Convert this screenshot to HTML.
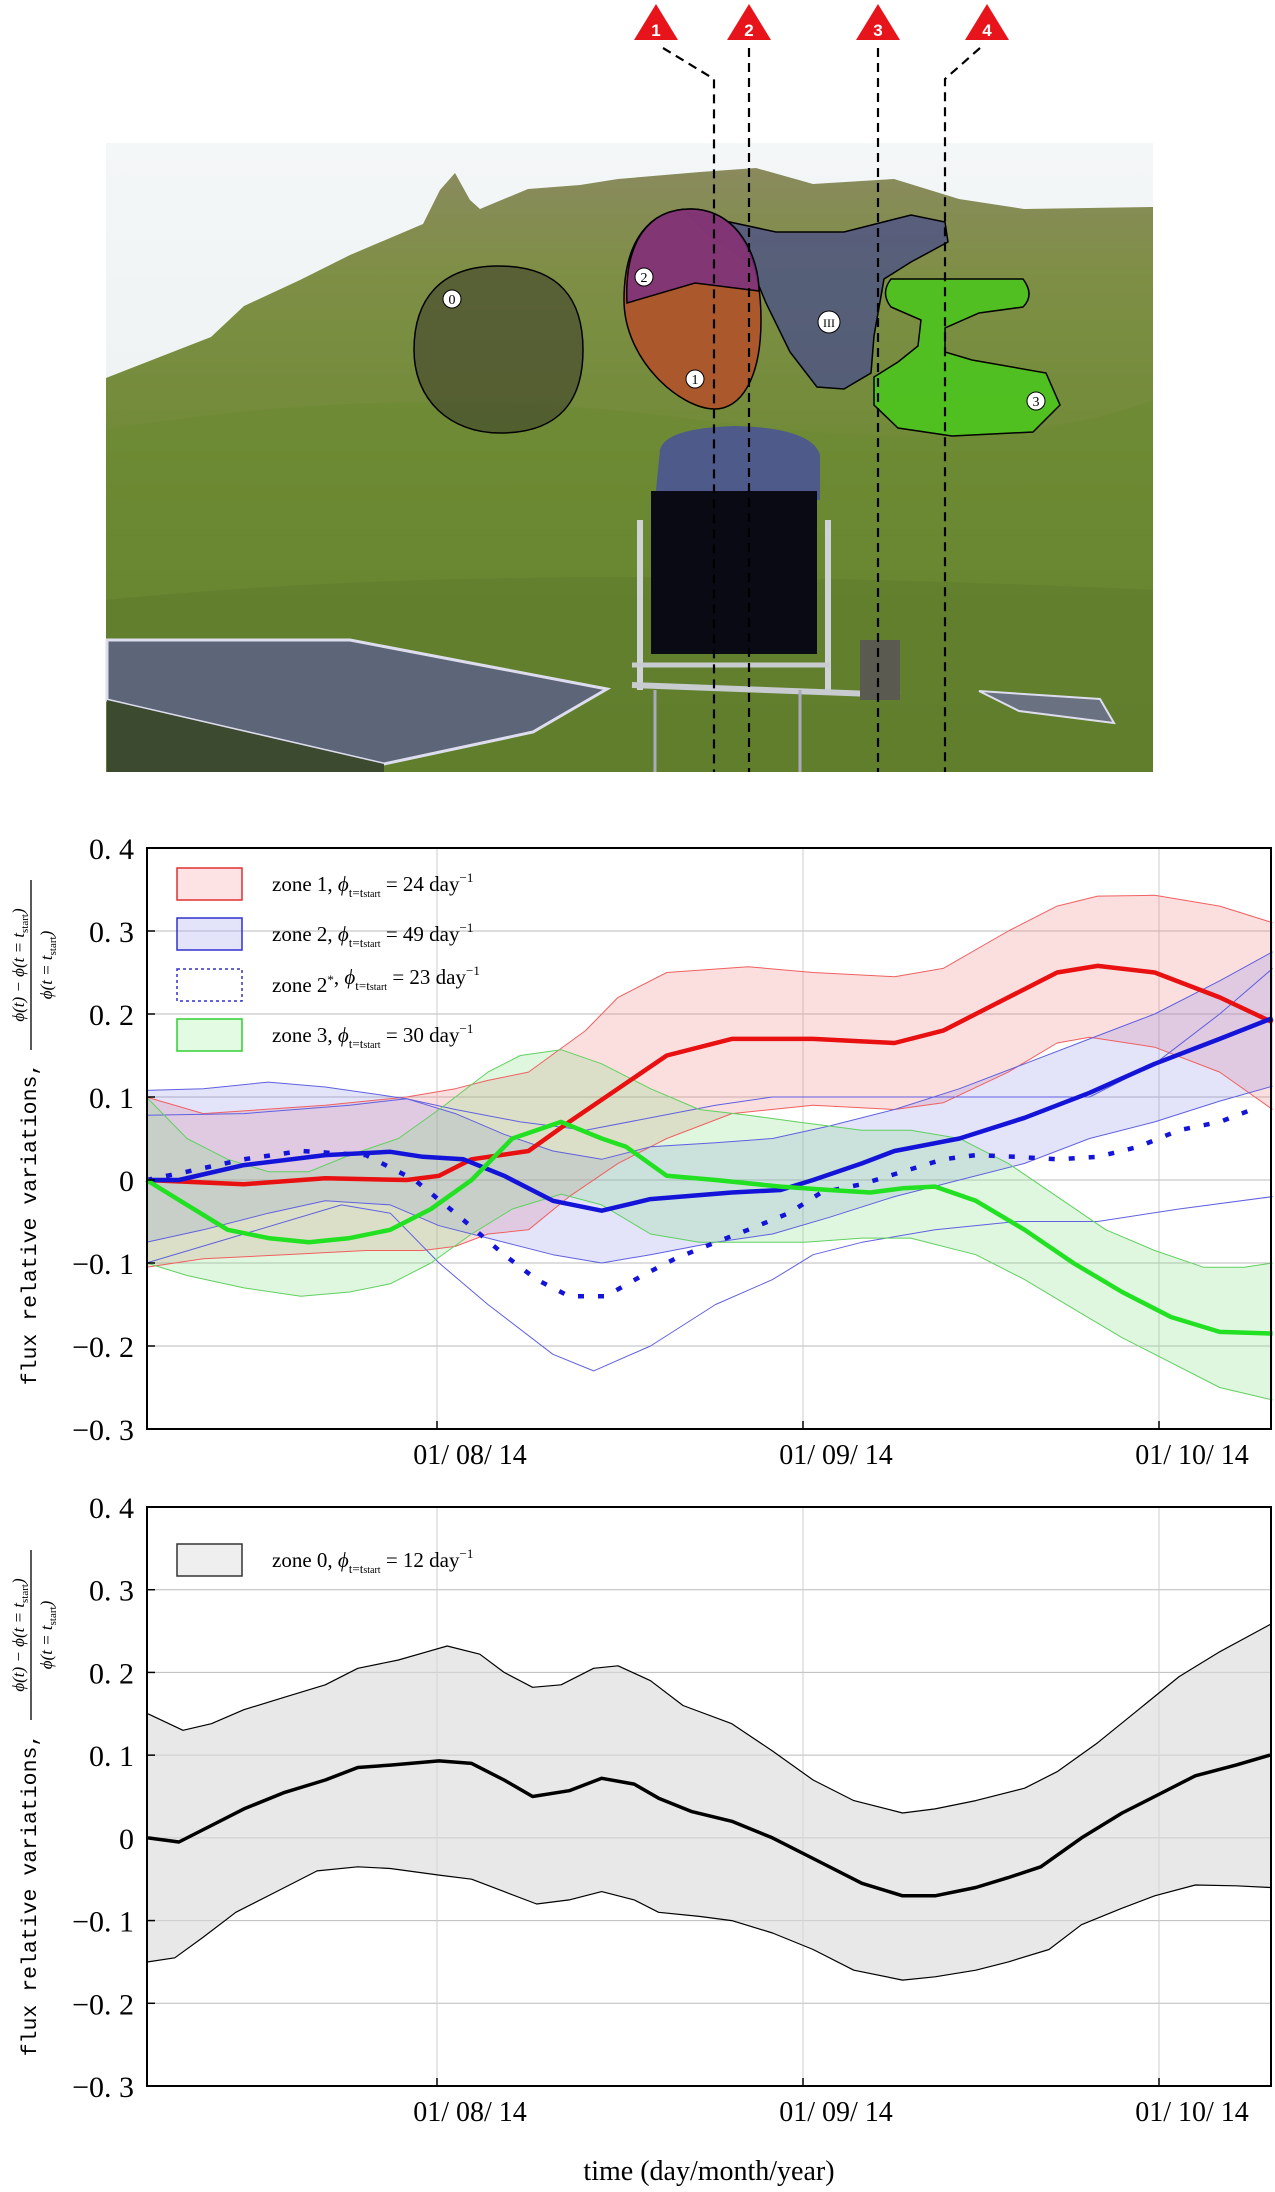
<!DOCTYPE html>
<html><head><meta charset="utf-8"><style>
html,body{margin:0;padding:0;background:#fff;}
svg{display:block;}
</style></head><body>
<svg id="s" width="1275" height="2192" viewBox="0 0 1275 2192" xmlns="http://www.w3.org/2000/svg" style="font-family:'Liberation Serif',serif">
<defs>
<linearGradient id="sky" x1="0" y1="0" x2="0" y2="1"><stop offset="0" stop-color="#f4f7f7"/><stop offset="1" stop-color="#e6ecef"/></linearGradient>
<linearGradient id="hill" x1="0" y1="0" x2="0" y2="1"><stop offset="0" stop-color="#8a8a5e"/><stop offset="0.18" stop-color="#7e8f45"/><stop offset="0.5" stop-color="#6f8a36"/><stop offset="1" stop-color="#5e7a2e"/></linearGradient>
</defs>
<rect x="106" y="143" width="1047" height="629" fill="url(#sky)"/>
<path d="M106,378 L211,337 L244,306 L300,280 L350,255 L423,224 L440,190 L455,173 L470,200 L480,209 L528,189 L580,185 L618,179 L700,172 L756,168 L813,184 L894,179 L959,199 L1024,209 L1153,207 L1153,772 L106,772 Z" fill="url(#hill)"/>
<path d="M106,430 Q400,380 700,420 T1153,400 L1153,772 L106,772Z" fill="#6a8a30" opacity="0.5"/>
<path d="M106,600 Q500,560 1153,590 L1153,772 L106,772Z" fill="#5d7c2c" opacity="0.6"/>
<path d="M498,266 C560,266 583,300 583,350 C583,400 560,433 500,433 C450,433 414,400 414,350 C414,300 440,266 498,266Z" fill="#3a3a2a" fill-opacity="0.55" stroke="#000" stroke-width="1.5"/>
<path d="M688,213 L776,232 L844,232 L911,215 L945,222 L948,242 L911,262 L884,279 L874,336 L871,373 L844,389 L817,387 L790,352 L766,303 L749,262 L708,234Z" fill="#4a4f8a" fill-opacity="0.75" stroke="#000" stroke-width="1.5"/>
<path d="M690,209 C740,209 761,260 761,320 C761,380 740,409 715,409 C680,409 624,360 624,300 C624,240 650,209 690,209Z" fill="#b0522a" fill-opacity="0.9" stroke="#000" stroke-width="1.5"/>
<path d="M690,209 C740,209 759,260 759,291 L695,283 L627,303 C624,240 650,209 690,209Z" fill="#7a3080" fill-opacity="0.85" stroke="#000" stroke-width="1.5"/>
<path d="M891,279 L1023,279 Q1035,295 1023,307 L979,313 L945,328 L945,352 L972,360 L1046,373 L1060,405 L1033,432 L952,436 L898,428 L874,405 L874,377 L898,362 L918,346 L921,320 L891,307 Q880,293 891,279Z" fill="#4cc41e" fill-opacity="0.9" stroke="#000" stroke-width="1.5"/>
<g font-size="14" text-anchor="middle" fill="#000">
<circle cx="452" cy="299" r="9" fill="#fff" stroke="#000"/><text x="452" y="304">0</text>
<circle cx="644" cy="277" r="9" fill="#fff" stroke="#000"/><text x="644" y="282">2</text>
<circle cx="695" cy="379" r="9" fill="#fff" stroke="#000"/><text x="695" y="384">1</text>
<circle cx="829" cy="322" r="11" fill="#fff" stroke="#000"/><text x="829" y="327" font-size="12">III</text>
<circle cx="1036" cy="401" r="9" fill="#fff" stroke="#000"/><text x="1036" y="406">3</text>
</g>
<path d="M640,520 L640,690 M828,520 L828,690" stroke="#cfd3d8" stroke-width="6"/>
<line x1="632" y1="685" x2="900" y2="695" stroke="#c8ccd0" stroke-width="6"/>
<line x1="632" y1="665" x2="830" y2="665" stroke="#c8ccd0" stroke-width="5"/>
<line x1="655" y1="690" x2="655" y2="772" stroke="#aab" stroke-width="3"/>
<line x1="800" y1="690" x2="800" y2="772" stroke="#aab" stroke-width="3"/>
<rect x="860" y="640" width="40" height="60" fill="#5a5a50"/>
<path d="M660,450 Q665,428 735,426 Q812,428 820,455 L820,500 L655,500Z" fill="#4e5a8a"/>
<rect x="651" y="491" width="166" height="163" fill="#0a0a14"/>
<path d="M107,640 L350,640 L607,689 L533,732 L384,764 L107,700Z" fill="#5c6678" stroke="#dde" stroke-width="3"/>
<path d="M107,700 L384,764 L384,772 L107,772Z" fill="#3c4a30"/>
<path d="M979,691 L1100,699 L1114,723 L1019,711Z" fill="#6a7282" stroke="#dde" stroke-width="2"/>
<g stroke="#000" stroke-width="2.2" stroke-dasharray="9,6" fill="none">
<path d="M663,48 L714,79 L714,772"/>
<path d="M749,48 L749,772"/>
<path d="M878,48 L878,772"/>
<path d="M980,48 L945,79 L945,772"/>
</g>
<g fill="#e8141c">
<path d="M656,4 L678,40 L634,40Z"/><path d="M749,4 L771,40 L727,40Z"/><path d="M878,4 L900,40 L856,40Z"/><path d="M987,4 L1009,40 L965,40Z"/>
</g>
<g fill="#fff" font-weight="bold" font-size="17" text-anchor="middle" style="font-family:'Liberation Sans',sans-serif">
<text x="656" y="36">1</text><text x="749" y="36">2</text><text x="878" y="36">3</text><text x="987" y="36">4</text>
</g>
<g id="c1"></g><g id="c2"></g>
</svg>
<script>
const NS="http://www.w3.org/2000/svg";
function el(p,t,a,txt){const e=document.createElementNS(NS,t);for(const k in a)e.setAttribute(k,a[k]);if(txt!==undefined)e.textContent=txt;p.appendChild(e);return e;}
const X0=147,X1=1271;
function chart(g,top,bot){
  const Y=v=>bot-(v+0.3)/0.7*(bot-top);
  const X=zx=>zx/1.2298;
  for(let v=-0.2;v<0.35;v+=0.1){el(g,'line',{x1:X0,x2:X1,y1:Y(v),y2:Y(v),stroke:'#bbb','stroke-width':1});}
  [437,803,1159].forEach(x=>el(g,'line',{x1:x,x2:x,y1:top,y2:bot,stroke:'#ccc','stroke-width':1}));
  return {Y,X};
}
function pts(arr,M){return arr.map(p=>M.X(p[0]).toFixed(1)+','+M.Y(p[1]).toFixed(1));}
function line(g,arr,M,st,w,da){const a={d:'M'+pts(arr,M).join(' L'),fill:'none',stroke:st,'stroke-width':w,'stroke-linejoin':'round'};if(da)a['stroke-dasharray']=da;el(g,'path',a);}
function band(g,up,lo,M,fill,op){el(g,'path',{d:'M'+pts(up,M).join(' L')+' L'+pts(lo.slice().reverse(),M).join(' L')+'Z',fill:fill,'fill-opacity':op,stroke:'none'});}
function axes(g,top,bot,M,lc,fc){
  el(g,'rect',{x:X0,y:top,width:X1-X0,height:bot-top,fill:'none',stroke:'#000','stroke-width':2});
  const labs=['0. 4','0. 3','0. 2','0. 1','0','\u22120. 1','\u22120. 2','\u22120. 3'];
  labs.forEach((l,i)=>{const v=0.4-i*0.1;el(g,'text',{x:134,y:M.Y(v)+11,'font-size':30,'text-anchor':'end'},l);
    el(g,'line',{x1:X0,x2:X0+8,y1:M.Y(v),y2:M.Y(v),stroke:'#000','stroke-width':1.5});});
  [[437,'01/ 08/ 14'],[803,'01/ 09/ 14'],[1159,'01/ 10/ 14']].forEach(([x,t])=>{
    el(g,'line',{x1:x,x2:x,y1:bot,y2:bot-8,stroke:'#000','stroke-width':1.5});
    el(g,'text',{x:x+33,y:bot+35,'font-size':28,'text-anchor':'middle'},t);});
  el(g,'text',{x:0,y:0,'font-size':21.5,style:"font-family:'Liberation Mono',monospace",'text-anchor':'middle',transform:`translate(36,${top+lc}) rotate(-90)`},'flux relative variations,');
  const fy=top+fc;
  const t1=el(g,'text',{x:0,y:0,'font-size':17,'font-style':'italic','text-anchor':'middle',transform:`translate(24,${fy}) rotate(-90)`});
  t1.innerHTML='\u03D5(t) \u2212 \u03D5(t = t<tspan font-size="11" dy="4" font-style="normal">start</tspan><tspan dy="-4">)</tspan>';
  const t2=el(g,'text',{x:0,y:0,'font-size':17,'font-style':'italic','text-anchor':'middle',transform:`translate(52,${fy}) rotate(-90)`});
  t2.innerHTML='\u03D5(t = t<tspan font-size="11" dy="4" font-style="normal">start</tspan><tspan dy="-4">)</tspan>';
  el(g,'line',{x1:31,x2:31,y1:fy-85,y2:fy+85,stroke:'#000','stroke-width':1.3});
}
function legend(g,y,col,fill,label,num,dash){
  const a={x:177,y:y-16,width:65,height:32,fill:fill,'fill-opacity':0.35,stroke:col,'stroke-width':1.5};
  if(dash){a['stroke-dasharray']='3,3';a.fill='none';}
  el(g,'rect',a);
  const t=el(g,'text',{x:272,y:y+7,'font-size':21});
  t.innerHTML=label+',  <tspan font-style="italic">\u03D5</tspan><tspan font-size="13" dy="6">t=t<tspan font-size="10">start</tspan></tspan><tspan dy="-6"> = '+num+' day</tspan><tspan font-size="13" dy="-9">\u22121</tspan>';
}
const g1=document.getElementById('c1');const top1=848,bot1=1429;
const M1=chart(g1,top1,bot1);
const rc=[[180,0],[300,-0.005],[400,0.002],[500,0.0],[540,0.005],[580,0.025],[650,0.035],[700,0.07],[760,0.11],[820,0.15],[900,0.17],[1000,0.17],[1060,0.167],[1100,0.165],[1160,0.18],[1240,0.22],[1300,0.25],[1350,0.258],[1420,0.25],[1500,0.22],[1565,0.19]];
const ru=[[180,0.1],[250,0.08],[400,0.09],[500,0.1],[560,0.11],[600,0.12],[650,0.13],[720,0.18],[760,0.22],[820,0.25],[920,0.257],[1000,0.25],[1100,0.245],[1160,0.255],[1240,0.3],[1300,0.33],[1350,0.342],[1420,0.343],[1500,0.33],[1565,0.31]];
const rl=[[180,-0.105],[250,-0.095],[350,-0.09],[450,-0.085],[520,-0.085],[560,-0.08],[600,-0.065],[650,-0.06],[700,-0.02],[760,0.02],[820,0.05],[900,0.08],[1000,0.09],[1100,0.085],[1160,0.093],[1240,0.13],[1300,0.165],[1340,0.172],[1420,0.16],[1500,0.13],[1565,0.085]];
const bc=[[180,0],[220,0.0],[300,0.018],[400,0.03],[480,0.034],[520,0.028],[570,0.025],[620,0.005],[680,-0.025],[740,-0.037],[800,-0.023],[900,-0.015],[960,-0.012],[1000,0.0],[1060,0.02],[1100,0.035],[1180,0.05],[1260,0.075],[1340,0.105],[1420,0.14],[1500,0.17],[1565,0.195]];
const bu=[[180,0.108],[250,0.11],[330,0.118],[400,0.112],[500,0.098],[560,0.08],[620,0.055],[680,0.035],[740,0.025],[800,0.04],[880,0.045],[950,0.05],[1020,0.065],[1100,0.085],[1180,0.11],[1260,0.14],[1340,0.17],[1420,0.2],[1500,0.24],[1565,0.275]];
const bl=[[180,-0.075],[250,-0.06],[330,-0.04],[400,-0.025],[480,-0.03],[540,-0.055],[600,-0.07],[680,-0.09],[740,-0.1],[800,-0.09],[880,-0.075],[950,-0.065],[1020,-0.045],[1100,-0.02],[1180,0.0],[1260,0.02],[1340,0.05],[1420,0.07],[1500,0.095],[1565,0.113]];
const b2l=[[180,-0.1],[300,-0.065],[420,-0.03],[480,-0.04],[540,-0.1],[600,-0.15],[680,-0.21],[730,-0.23],[800,-0.2],[880,-0.15],[950,-0.12],[1000,-0.09],[1060,-0.075],[1150,-0.06],[1250,-0.05],[1350,-0.05],[1450,-0.035],[1565,-0.02]];
const b2u=[[180,0.078],[300,0.08],[430,0.09],[500,0.098],[560,0.085],[640,0.07],[720,0.06],[800,0.075],[880,0.09],[950,0.1],[1100,0.1],[1200,0.1],[1340,0.1],[1420,0.14],[1500,0.2],[1565,0.255]];
const bd=[[180,0],[230,0.01],[300,0.025],[370,0.035],[450,0.03],[510,0.0],[560,-0.04],[620,-0.09],[660,-0.12],[700,-0.14],[745,-0.14],[790,-0.115],[830,-0.095],[880,-0.075],[920,-0.06],[970,-0.04],[1010,-0.015],[1060,-0.005],[1110,0.01],[1160,0.025],[1200,0.03],[1250,0.028],[1300,0.025],[1350,0.028],[1400,0.04],[1450,0.06],[1500,0.07],[1540,0.085]];
const gc=[[180,0],[230,-0.03],[280,-0.06],[330,-0.07],[380,-0.075],[430,-0.07],[480,-0.06],[530,-0.035],[580,0.0],[630,0.05],[690,0.07],[740,0.05],[770,0.04],[820,0.005],[880,0.0],[960,-0.008],[1020,-0.012],[1070,-0.015],[1110,-0.01],[1150,-0.008],[1200,-0.025],[1260,-0.06],[1320,-0.1],[1380,-0.135],[1440,-0.165],[1500,-0.183],[1565,-0.185]];
const gu=[[180,0.1],[230,0.05],[280,0.025],[330,0.01],[380,0.01],[430,0.03],[490,0.05],[540,0.085],[600,0.13],[640,0.15],[690,0.157],[740,0.14],[800,0.11],[860,0.085],[920,0.078],[980,0.07],[1060,0.06],[1120,0.06],[1180,0.05],[1240,0.02],[1300,-0.02],[1360,-0.06],[1420,-0.085],[1480,-0.105],[1530,-0.105],[1565,-0.1]];
const gl=[[180,-0.1],[230,-0.115],[300,-0.13],[370,-0.14],[430,-0.135],[480,-0.125],[530,-0.1],[580,-0.065],[630,-0.035],[690,-0.017],[740,-0.03],[800,-0.065],[860,-0.075],[920,-0.075],[990,-0.075],[1060,-0.07],[1120,-0.07],[1200,-0.09],[1260,-0.12],[1320,-0.155],[1380,-0.19],[1440,-0.22],[1500,-0.25],[1565,-0.265]];
band(g1,ru,rl,M1,'#f08080',0.25);band(g1,bu,bl,M1,'#8080e8',0.22);band(g1,gu,gl,M1,'#80e080',0.25);
[ru,rl].forEach(a=>line(g1,a,M1,'#f06060',1));
[bu,bl,b2u,b2l].forEach(a=>line(g1,a,M1,'#6060e0',1));
[gu,gl].forEach(a=>line(g1,a,M1,'#60d060',1));
line(g1,rc,M1,'#e81010',4.5);line(g1,bc,M1,'#1414d8',4.5);line(g1,bd,M1,'#1414d8',4.5,'6,14');line(g1,gc,M1,'#22e022',4.5);
axes(g1,top1,bot1,M1,376,117);
legend(g1,884,'#e03030','#f8b0b0','zone 1','24');legend(g1,934,'#3030d0','#b0b0f0','zone 2','49');
legend(g1,985,'#3030d0','none','zone 2<tspan font-size="13" dy="-8">*</tspan><tspan dy="8"></tspan>','23',true);legend(g1,1035,'#30d030','#b0f0b0','zone 3','30');
const g2=document.getElementById('c2');const top2=1507,bot2=2086;
const M2=chart(g2,top2,bot2);
const kc=[[182,0],[220,-0.005],[260,0.015],[300,0.035],[350,0.055],[400,0.07],[440,0.085],[480,0.088],[540,0.093],[580,0.09],[620,0.07],[655,0.05],[700,0.057],[740,0.072],[780,0.065],[810,0.048],[850,0.032],[900,0.02],[950,0.0],[1000,-0.025],[1060,-0.055],[1110,-0.07],[1150,-0.07],[1200,-0.06],[1240,-0.048],[1280,-0.035],[1330,0.0],[1380,0.03],[1420,0.05],[1470,0.075],[1520,0.088],[1562,0.1]];
const ku=[[182,0.15],[225,0.13],[260,0.138],[300,0.155],[350,0.17],[400,0.185],[440,0.205],[490,0.215],[550,0.232],[590,0.222],[620,0.2],[655,0.182],[690,0.185],[730,0.205],[760,0.208],[800,0.19],[840,0.16],[900,0.138],[950,0.105],[1000,0.07],[1050,0.045],[1110,0.03],[1150,0.035],[1200,0.045],[1260,0.06],[1300,0.08],[1350,0.115],[1400,0.155],[1450,0.195],[1500,0.225],[1562,0.258]];
const kl=[[182,-0.15],[215,-0.145],[250,-0.12],[290,-0.09],[340,-0.065],[390,-0.04],[440,-0.035],[480,-0.037],[540,-0.045],[580,-0.05],[620,-0.065],[660,-0.08],[700,-0.075],[740,-0.065],[780,-0.075],[810,-0.09],[860,-0.095],[900,-0.1],[950,-0.115],[1000,-0.135],[1050,-0.16],[1110,-0.172],[1150,-0.168],[1200,-0.16],[1240,-0.15],[1290,-0.135],[1330,-0.105],[1380,-0.085],[1420,-0.07],[1470,-0.057],[1520,-0.058],[1562,-0.06]];
band(g2,ku,kl,M2,'#d8d8d8',0.6);
line(g2,ku,M2,'#000',1.2);line(g2,kl,M2,'#000',1.2);line(g2,kc,M2,'#000',3.5);
axes(g2,top2,bot2,M2,388,128);
legend(g2,1560,'#333','#d0d0d0','zone 0','12');
el(g2,'text',{x:709,y:2180,'font-size':28,'text-anchor':'middle'},'time (day/month/year)');
</script>
</body></html>
